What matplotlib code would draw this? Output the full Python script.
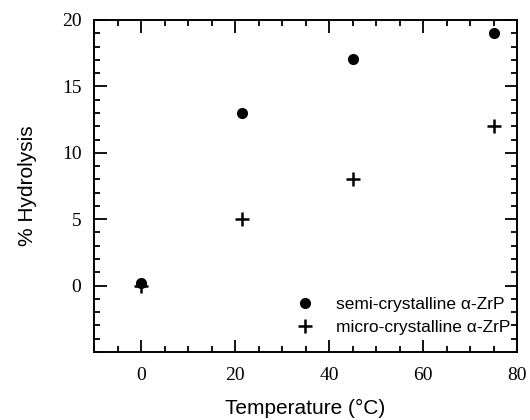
import matplotlib
matplotlib.use("Agg")
import matplotlib.pyplot as plt
from matplotlib.ticker import MultipleLocator

temps_semi = [0, 21.5, 45, 75]
hyd_semi = [0.2, 13.0, 17.1, 19.0]
temps_micro = [0, 21.5, 45, 75]
hyd_micro = [0.0, 5.0, 8.0, 12.0]
xticks = [0, 20, 40, 60, 80]
yticks = [0, 5, 10, 15, 20]

fig = plt.figure(figsize=(5.3, 4.2), dpi=100)
ax = fig.add_axes([94 / 530, 1 - 352 / 420, 423 / 530, 332 / 420])

ax.plot(temps_semi, hyd_semi, 'o', color='black', markersize=7, linestyle='none',
        label='semi-crystalline α-ZrP')
ax.plot(temps_micro, hyd_micro, '+', color='black', markersize=10, markeredgewidth=1.8,
        linestyle='none', label='micro-crystalline α-ZrP')

ax.set_xlim(-10, 80)
ax.set_ylim(-5, 20)
ax.set_xticks(xticks)
ax.set_yticks(yticks)
ax.xaxis.set_minor_locator(MultipleLocator(5))
ax.yaxis.set_minor_locator(MultipleLocator(1))
ax.tick_params(which='both', direction='in', top=True, right=True, width=1.3)
ax.tick_params(which='major', length=9)
ax.tick_params(which='minor', length=4.5)
ax.tick_params(axis='x', which='major', pad=11)
ax.tick_params(axis='y', which='major', pad=9)
for lab in ax.get_xticklabels() + ax.get_yticklabels():
    lab.set_family('Liberation Serif')
    lab.set_fontsize(14)
for s in ax.spines.values():
    s.set_linewidth(1.4)

ax.set_xlabel('Temperature (°C)', family='Liberation Sans', fontsize=15, labelpad=10.5)
ax.set_ylabel('% Hydrolysis', family='Liberation Sans', fontsize=15, labelpad=18)

leg = ax.legend(loc='lower right', bbox_to_anchor=(0.985, 0.052), frameon=False,
                prop={'family': 'Liberation Sans', 'size': 12.5},
                handlelength=2.0, handletextpad=0.8, borderpad=0, borderaxespad=0,
                labelspacing=0.42)

fig.savefig('out.png', dpi=100)
